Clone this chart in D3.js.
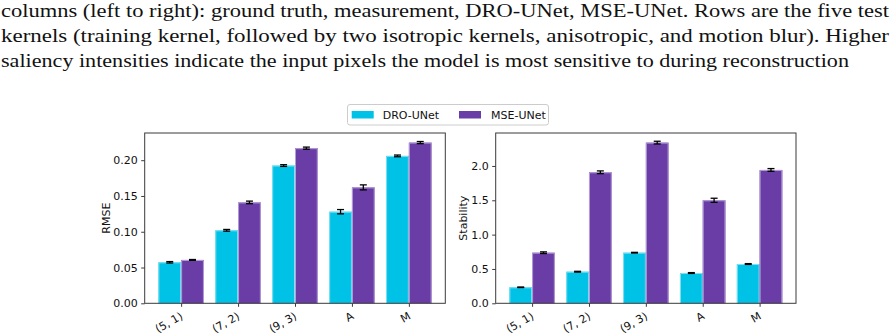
<!DOCTYPE html>
<html><head><meta charset="utf-8">
<script src="https://cdn.jsdelivr.net/npm/d3@7"></script>
<style>body{margin:0;background:#fff}svg{display:block}.cap{font-family:'Liberation Serif','DejaVu Serif',serif}</style>
</head><body>
<svg id="c" width="895" height="336"></svg>
<script>
const categories = ["(5, 1)", "(7, 2)", "(9, 3)", "A", "M"];
const series = ["DRO-UNet", "MSE-UNet"];
const rmseDRO = [0.0573, 0.102, 0.1925, 0.128, 0.206];
const rmseMSE = [0.0606, 0.141, 0.2168, 0.162, 0.2246];
const rmseDROErr = [0.001, 0.0012, 0.0012, 0.003, 0.0012];
const rmseMSEErr = [0.0006, 0.0018, 0.0015, 0.0035, 0.0015];
const stabDRO = [0.233, 0.46, 0.737, 0.441, 0.572];
const stabMSE = [0.737, 1.908, 2.34, 1.50, 1.942];
const stabDROErr = [0.004, 0.006, 0.005, 0.006, 0.006];
const stabMSEErr = [0.012, 0.02, 0.02, 0.03, 0.02];
const rmseTicks = [0, 0.05, 0.10, 0.15, 0.20];
const stabTicks = [0, 0.5, 1.0, 1.5, 2.0];
const captionLines = [
  "columns (left to right): ground truth, measurement, DRO-UNet, MSE-UNet.  Rows are the five test",
  "kernels (training kernel, followed by two isotropic kernels, anisotropic, and motion blur).  Higher",
  "saliency intensities indicate the input pixels the model is most sensitive to during reconstruction"
];

const colors = ["#00c2e6", "#6a3ca6"];
const edges = ["#7fe0f2", "#b49fd6"];
const svg = d3.select("#c");
const sans = "'DejaVu Sans', sans-serif";

// caption
const capW = [888, 888, 848];
const capY = [16.5, 42, 67];
captionLines.forEach((t, i) => {
  svg.append("text").attr("class", "cap").attr("x", 1).attr("y", capY[i])
    .attr("font-size", 18.5).attr("fill", "#111")
    .attr("textLength", capW[i]).attr("lengthAdjust", "spacingAndGlyphs")
    .text(t);
});

function panel(x0, x1, y0, y1, dro, mse, droE, mseE, ymax, ticks, fmt, label, labelX) {
  const g = svg.append("g");
  const x = d3.scaleLinear().domain([-0.64, 4.64]).range([x0, x1]);
  const y = d3.scaleLinear().domain([0, ymax]).range([y1, y0]);
  const data = [dro, mse], errs = [droE, mseE];
  data.forEach((vals, s) => {
    const off = s === 0 ? -0.2 : 0.2;
    g.selectAll(null).data(vals).enter().append("rect")
      .attr("x", (d, i) => x(i + off - 0.2))
      .attr("width", x(0.4) - x(0))
      .attr("y", d => y(d))
      .attr("height", d => y(0) - y(d))
      .attr("fill", colors[s]);
    g.selectAll(null).data(vals).enter().append("path")
      .attr("d", (d, i) => {
        const a = x(i + off - 0.2) + 0.5, b = x(i + off + 0.2) - 0.5, t = y(d) + 0.5;
        return `M${a},${y(0)}V${t}H${b}V${y(0)}`;
      })
      .attr("fill", "none").attr("stroke", edges[s]).attr("stroke-width", 1);
  });
  data.forEach((vals, s) => {
    const off = s === 0 ? -0.2 : 0.2;
    vals.forEach((d, i) => {
      const cx = x(i + off), e = errs[s][i];
      const yt = y(d + e), yb = y(d - e);
      g.append("line").attr("x1", cx).attr("x2", cx).attr("y1", yt).attr("y2", yb)
        .attr("stroke", "#000").attr("stroke-width", 1.3);
      [yt, yb].forEach(yy => g.append("line").attr("x1", cx - 3.5).attr("x2", cx + 3.5)
        .attr("y1", yy).attr("y2", yy).attr("stroke", "#000").attr("stroke-width", 1.3));
    });
  });
  // frame
  g.append("rect").attr("x", x0).attr("y", y0).attr("width", x1 - x0).attr("height", y1 - y0)
    .attr("fill", "none").attr("stroke", "#3a3a3a").attr("stroke-width", 1);
  // y axis
  const ya = d3.axisLeft(y).tickValues(ticks).tickFormat(d3.format(fmt)).tickSize(3.5).tickPadding(3.5);
  const yg = g.append("g").attr("transform", `translate(${x0},0)`).call(ya);
  yg.select(".domain").remove();
  yg.selectAll("text").attr("font-family", sans).attr("font-size", 11).attr("fill", "#111");
  yg.selectAll("line").attr("stroke", "#3a3a3a");
  // x axis
  const xa = d3.axisBottom(x).tickValues(d3.range(categories.length))
    .tickFormat(i => categories[i]).tickSize(3.5).tickPadding(3);
  const xg = g.append("g").attr("transform", `translate(0,${y1})`).call(xa);
  xg.select(".domain").remove();
  xg.selectAll("line").attr("stroke", "#3a3a3a");
  xg.selectAll("text").attr("font-family", sans).attr("font-size", 11).attr("fill", "#111")
    .attr("text-anchor", "end").attr("dy", null).attr("y", 0)
    .attr("transform", "translate(2,15) rotate(-30)");
  // label
  g.append("text").attr("transform", `translate(${labelX},${(y0 + y1) / 2}) rotate(-90)`)
    .attr("text-anchor", "middle").attr("font-family", sans).attr("font-size", 11)
    .attr("fill", "#111").text(label);
}

panel(144.7, 445.3, 133, 303.3, rmseDRO, rmseMSE, rmseDROErr, rmseMSEErr, 0.238, rmseTicks, ".2f", "RMSE", 110);
panel(495.7, 796, 133, 303.3, stabDRO, stabMSE, stabDROErr, stabMSEErr, 2.48, stabTicks, ".1f", "Stability", 467);

// legend
const lg = svg.append("g");
lg.append("rect").attr("x", 347.5).attr("y", 104.5).attr("width", 201).attr("height", 20.5)
  .attr("rx", 2.5).attr("fill", "#fff").attr("stroke", "#cccccc");
const lx = [351.7, 459], tx = [382.7, 491];
series.forEach((s, i) => {
  lg.append("rect").attr("x", lx[i]).attr("y", 111).attr("width", 22).attr("height", 7.5).attr("fill", colors[i]);
  lg.append("text").attr("x", tx[i]).attr("y", 118.8).attr("font-family", sans).attr("font-size", 11)
    .attr("fill", "#111").text(s);
});
</script>
</body></html>
